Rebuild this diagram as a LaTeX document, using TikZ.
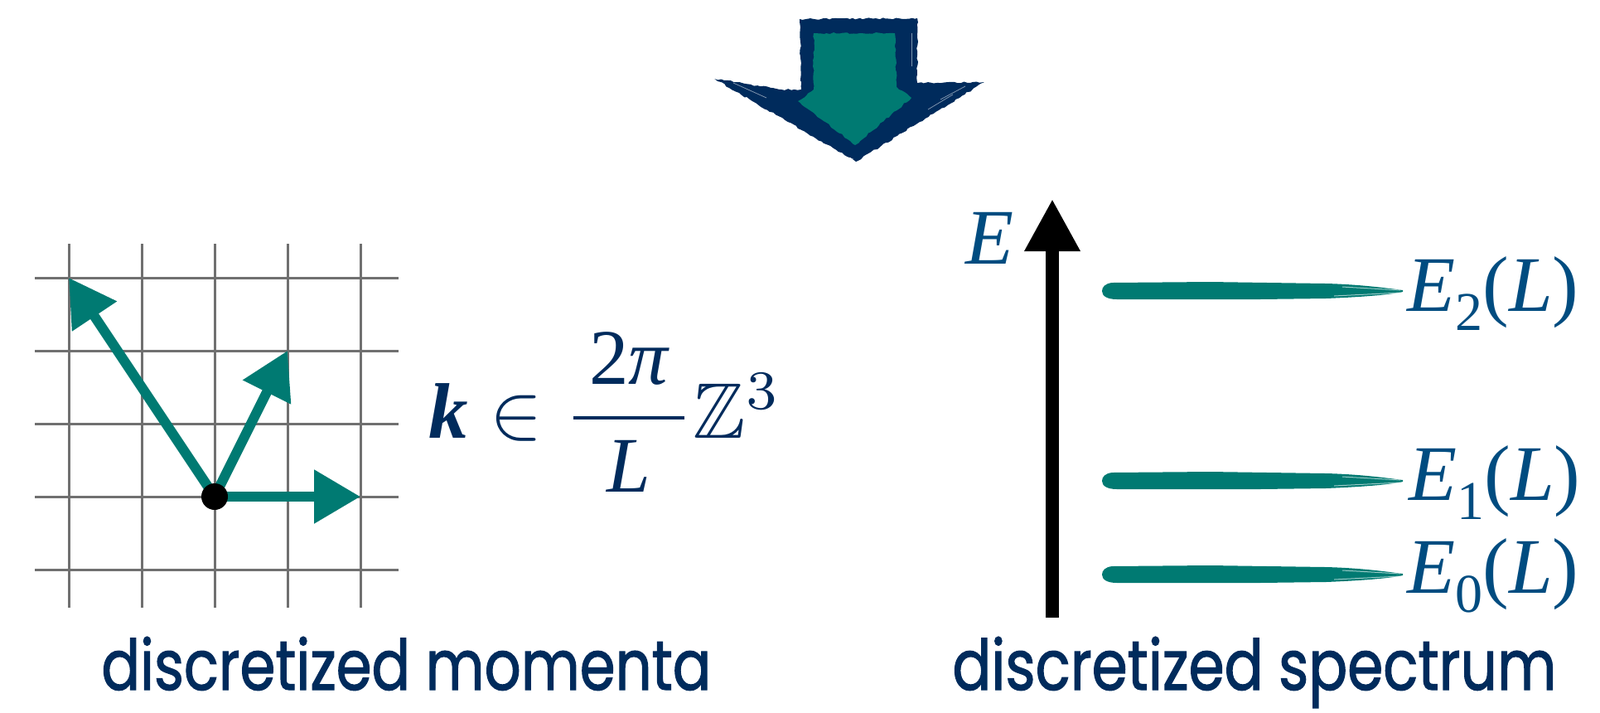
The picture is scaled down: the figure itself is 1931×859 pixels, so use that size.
\documentclass[tikz,border=0pt]{standalone}
\usepackage{amsmath,amssymb}
\usepackage{graphicx}
\usepackage{fontspec}
\setmainfont{Liberation Serif}
\newfontfamily\popfont[BoldFont=*,BoldFeatures={FakeBold=1.6}]{Poppins}
\usetikzlibrary{arrows.meta,decorations.pathmorphing}
\definecolor{navy}{HTML}{002B5C}
\definecolor{lblue}{HTML}{004C80}
\definecolor{brushteal}{HTML}{007A72}
\definecolor{gridgray}{RGB}{112,112,112}
\begin{document}
\begin{tikzpicture}[x=0.5pt,y=-0.5pt,
  gridline/.style={draw=gridgray,line width=1.5pt},
  vec/.style={draw=brushteal,line width=6pt,-{Triangle[width=31pt,length=28pt]}},
  dot/.style={circle,fill=black,minimum size=16pt,inner sep=0pt},
  axisarrow/.style={draw=black,line width=8pt,-{Triangle[width=31.5pt,length=31.5pt]}},
  lbl/.style={text=lblue,inner sep=0pt,anchor=base west,font=\fontsize{47.5}{50}\selectfont},
  formula/.style={text=navy,inner sep=0pt,anchor=base west,font=\fontsize{10}{12}\selectfont},
  caption/.style={text=navy,inner sep=0pt,anchor=base west},
  rough/.style={decorate,decoration={random steps,segment length=2pt,amplitude=0.5pt}}]
\useasboundingbox (0,0) rectangle (1931,859);

% ---- top arrow ----
\fill[navy,rough] (965,23) -- (1107,22) -- (1107,100) -- (1188,99) -- (1033,195) -- (862,95) -- (943,108) -- (967,108) -- cycle;
\fill[brushteal,rough] (982,40) -- (1080,40) -- (1082,105) -- (1100,118) -- (1032,175) -- (963,122) -- (982,108) -- cycle;
\foreach \a/\b/\c/\d in {885/100/925/118, 1165/104/1135/120, 1150/114/1120/132, 1010/186/1030/192, 1100/40/1100/80}
  \draw[white,line width=0.4pt,opacity=0.5] (\a,\b) -- (\c,\d);

% ---- grid ----
\foreach \x in {83,171,259,347,435} \draw[gridline] (\x,294) -- (\x,733);
\foreach \y in {335,423,511,599,687} \draw[gridline] (42,\y) -- (481,\y);

\coordinate (O) at (259,599);
\coordinate (k1) at (83,335);
\coordinate (k2) at (347,423);
\coordinate (k3) at (435,599);
\draw[vec] (O) -- (k1);
\draw[vec] (O) -- (k2);
\draw[vec] (O) -- (k3);
\node[dot] (o) at (O) {};

% ---- formula ----
\node[formula] (kform) at (517,528)
  {\scalebox{4.75}{$\text{\bfseries\itshape k}\in\dfrac{\hspace{2pt}\text{2\itshape π}\hspace{2pt}}{\text{\itshape L}}\mathbb{Z}^{3}$}};

% ---- spectrum ----
\coordinate (Ebot) at (1270,745);
\coordinate (Etop) at (1270,240);
\draw[axisarrow] (Ebot) -- (Etop);
\node[lbl] (E) at (1165,318) {\itshape E};

\foreach \c in {351,580,693}{
  \fill[brushteal] (1342,\c-10) .. controls (1334,\c-9) and (1330,\c-5) .. (1330,\c)
    .. controls (1330,\c+6) and (1336,\c+10) .. (1348,\c+10)
    -- (1520,\c+10) -- (1600,\c+9)
    .. controls (1650,\c+7) and (1680,\c+4) .. (1693,\c+1)
    -- (1693,\c-1)
    .. controls (1670,\c-4) and (1640,\c-8) .. (1600,\c-9)
    -- (1460,\c-11) -- cycle;
  \draw[white,line width=0.5pt,opacity=0.6] (1610,\c+6) -- (1690,\c+2);
  \draw[white,line width=0.5pt,opacity=0.6] (1620,\c-5) -- (1690,\c-1);
}

\node[lbl] (E2) at (1698,375) {{\itshape E}\raisebox{-11.5pt}{\fontsize{33}{33}\selectfont 2}({\itshape L})};
\node[lbl] (E1) at (1700,603) {{\itshape E}\raisebox{-11.5pt}{\fontsize{33}{33}\selectfont 1}({\itshape L})};
\node[lbl] (E0) at (1698,715) {{\itshape E}\raisebox{-11.5pt}{\fontsize{33}{33}\selectfont 0}({\itshape L})};

% ---- captions ----
\node[caption] (capL) at (122,832) {\resizebox{368pt}{32pt}{\popfont\bfseries discretized momenta}};
\node[caption] (capR) at (1149,832) {\resizebox{364.5pt}{32pt}{\popfont\bfseries discretized spectrum}};
\end{tikzpicture}
\end{document}
